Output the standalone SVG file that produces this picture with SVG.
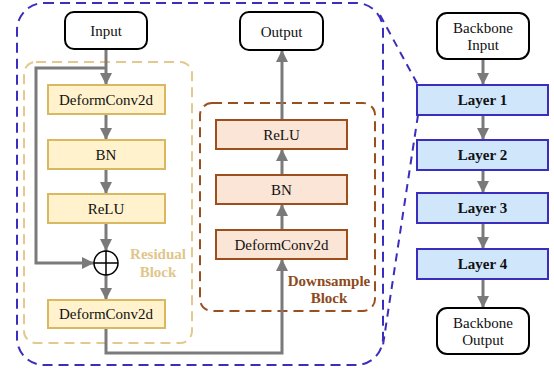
<svg xmlns="http://www.w3.org/2000/svg" width="554" height="375" viewBox="0 0 554 375">
  <style>
    text { font-family: 'Liberation Serif', 'Times New Roman', 'DejaVu Serif', serif; font-size: 15px; fill: #111; text-anchor: middle; }
    .bold { font-weight: bold; }
    .term { fill: #fff; stroke: #000; stroke-width: 2; }
    .res { fill: #fff2cc; stroke: #d9b862; stroke-width: 2; }
    .down { fill: #fbe5d6; stroke: #9c4f1d; stroke-width: 2; }
    .layer { fill: #cfe6fb; stroke: #3b2dbd; stroke-width: 2; }
    .conn { fill: none; stroke: #7a7a7a; stroke-width: 3; }
    .frame { fill: none; stroke-width: 2; stroke-dasharray: 10 6; }
    .tan { fill: #e0c68a; }
    .brown { fill: #8e4a1c; }
  </style>
  <defs>
    <marker id="arrow" markerUnits="userSpaceOnUse" markerWidth="14" markerHeight="14" viewBox="0 0 14 14" refX="12" refY="7" orient="auto">
      <path d="M0,1 L12,7 L0,13 Z" fill="#7a7a7a"/>
    </marker>
  </defs>

  <!-- enclosing frames -->
  <g id="frames">
    <rect class="frame" x="17" y="3" width="366" height="362" rx="27" stroke="#3b2dbd"/>
    <line x1="380" y1="15" x2="418" y2="85" stroke="#3b2dbd" stroke-width="2" stroke-dasharray="8 6"/>
    <line x1="418" y1="115" x2="383" y2="345" stroke="#3b2dbd" stroke-width="2" stroke-dasharray="8 6"/>
    <rect class="frame" x="24" y="62" width="168" height="281" rx="12" stroke="#e3c98e" stroke-dasharray="9 5"/>
    <rect class="frame" x="200" y="103" width="175" height="208" rx="12" stroke="#9c4f1d" stroke-dasharray="9 5"/>
    <text class="bold tan" x="158" y="259">Residual</text>
    <text class="bold tan" x="158" y="277">Block</text>
    <text class="bold brown" x="329" y="286">Downsample</text>
    <text class="bold brown" x="329" y="303">Block</text>
  </g>

  <!-- connectors -->
  <g id="connectors">
    <line class="conn" x1="106" y1="49" x2="106" y2="85" marker-end="url(#arrow)"/>
    <polyline class="conn" points="106,68 36,68 36,263 94,263" marker-end="url(#arrow)"/>
    <line class="conn" x1="106" y1="114" x2="106" y2="140" marker-end="url(#arrow)"/>
    <line class="conn" x1="106" y1="169" x2="106" y2="194" marker-end="url(#arrow)"/>
    <line class="conn" x1="106" y1="223" x2="106" y2="251" marker-end="url(#arrow)"/>
    <line class="conn" x1="106" y1="275" x2="106" y2="300" marker-end="url(#arrow)"/>
    <polyline class="conn" points="106,328 106,353 282,353 282,259" marker-end="url(#arrow)"/>
    <line class="conn" x1="282" y1="230" x2="282" y2="204" marker-end="url(#arrow)"/>
    <line class="conn" x1="282" y1="175" x2="282" y2="149" marker-end="url(#arrow)"/>
    <line class="conn" x1="282" y1="120" x2="282" y2="50" marker-end="url(#arrow)"/>
    <line class="conn" x1="483" y1="59" x2="483" y2="85" marker-end="url(#arrow)"/>
    <line class="conn" x1="483" y1="115" x2="483" y2="140" marker-end="url(#arrow)"/>
    <line class="conn" x1="483" y1="170" x2="483" y2="193" marker-end="url(#arrow)"/>
    <line class="conn" x1="483" y1="223" x2="483" y2="249" marker-end="url(#arrow)"/>
    <line class="conn" x1="483" y1="279" x2="483" y2="308" marker-end="url(#arrow)"/>
  </g>

  <!-- residual block -->
  <g id="input">
    <rect class="term" x="65" y="12" width="82" height="37" rx="9"/>
    <text x="106" y="36">Input</text>
  </g>
  <g id="res-deform1">
    <rect class="res" x="48" y="85" width="117" height="29"/>
    <text x="106" y="104.5">DeformConv2d</text>
  </g>
  <g id="res-bn">
    <rect class="res" x="48" y="140" width="117" height="29"/>
    <text x="106" y="159.5">BN</text>
  </g>
  <g id="res-relu">
    <rect class="res" x="48" y="194" width="117" height="29"/>
    <text x="106" y="213.5">ReLU</text>
  </g>
  <g id="res-add">
    <circle cx="106" cy="263" r="12" fill="#fff" stroke="#000" stroke-width="1.5"/>
    <line x1="94" y1="263" x2="118" y2="263" stroke="#000" stroke-width="1.5"/>
    <line x1="106" y1="251" x2="106" y2="275" stroke="#000" stroke-width="1.5"/>
  </g>
  <g id="res-deform2">
    <rect class="res" x="48" y="300" width="117" height="28"/>
    <text x="106" y="319">DeformConv2d</text>
  </g>

  <!-- downsample block -->
  <g id="output">
    <rect class="term" x="240" y="12" width="83" height="38" rx="9"/>
    <text x="281.5" y="36.5">Output</text>
  </g>
  <g id="down-relu">
    <rect class="down" x="216" y="120" width="131" height="29"/>
    <text x="281.5" y="139.5">ReLU</text>
  </g>
  <g id="down-bn">
    <rect class="down" x="216" y="175" width="131" height="29"/>
    <text x="281.5" y="194.5">BN</text>
  </g>
  <g id="down-deform">
    <rect class="down" x="216" y="230" width="131" height="29"/>
    <text x="281.5" y="249.5">DeformConv2d</text>
  </g>

  <!-- backbone -->
  <g id="backbone-input">
    <rect class="term" x="437" y="13" width="92" height="46" rx="10"/>
    <text x="483" y="33">Backbone</text>
    <text x="483" y="50">Input</text>
  </g>
  <g id="layer1">
    <rect class="layer" x="417" y="85" width="131" height="30"/>
    <text class="bold" x="482.5" y="105">Layer 1</text>
  </g>
  <g id="layer2">
    <rect class="layer" x="417" y="140" width="131" height="30"/>
    <text class="bold" x="482.5" y="160">Layer 2</text>
  </g>
  <g id="layer3">
    <rect class="layer" x="417" y="193" width="131" height="30"/>
    <text class="bold" x="482.5" y="213">Layer 3</text>
  </g>
  <g id="layer4">
    <rect class="layer" x="417" y="249" width="131" height="30"/>
    <text class="bold" x="482.5" y="269">Layer 4</text>
  </g>
  <g id="backbone-output">
    <rect class="term" x="437" y="308" width="92" height="46" rx="10"/>
    <text x="483" y="328">Backbone</text>
    <text x="483" y="345">Output</text>
  </g>
</svg>
